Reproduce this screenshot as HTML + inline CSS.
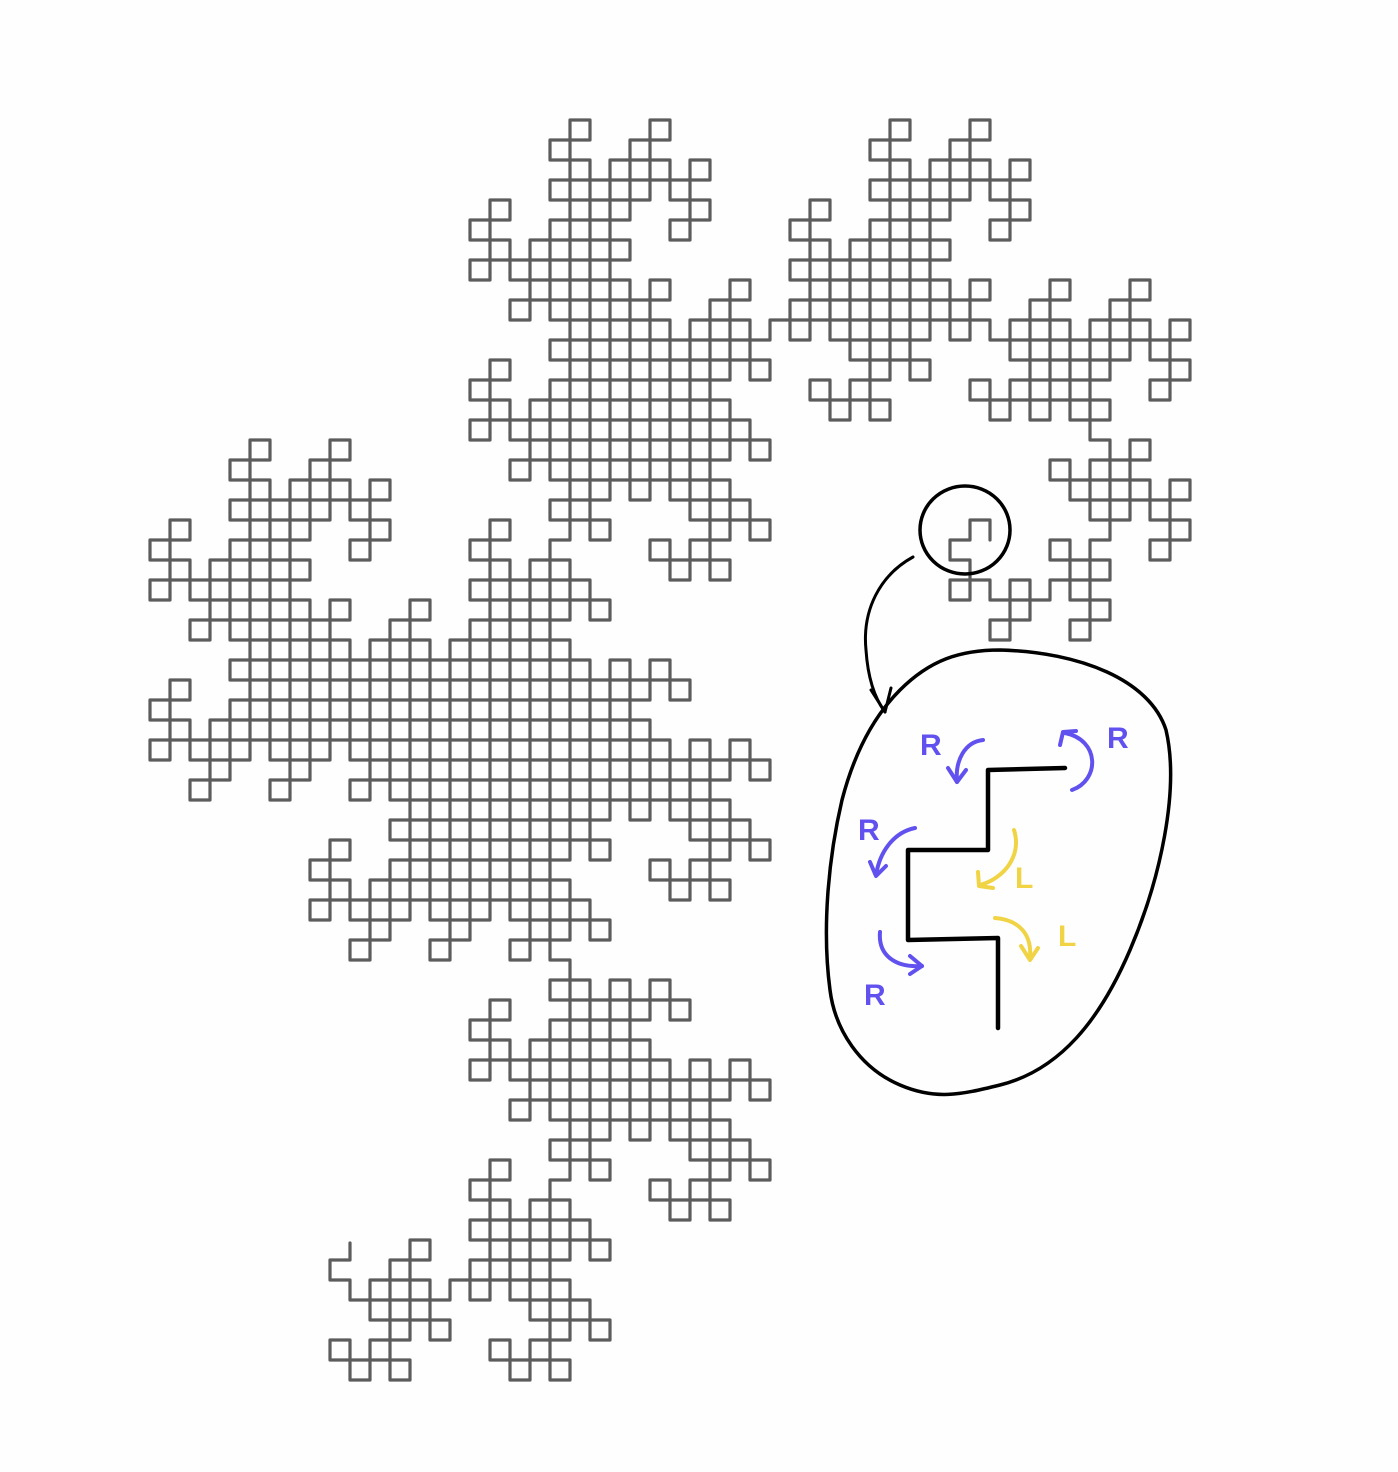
<!DOCTYPE html>
<html><head><meta charset="utf-8">
<style>
html,body{margin:0;padding:0;background:#fefefe;}
svg{display:block;}
text{font-family:"Liberation Sans",sans-serif;font-weight:bold;}
</style></head>
<body>
<svg id="chart" width="1398" height="1472" viewBox="0 0 1398 1472">
  <g id="curve"></g>
  <g fill="none" stroke-linecap="round" stroke-linejoin="round">
    <ellipse cx="965" cy="530" rx="45" ry="44" stroke="#000" stroke-width="3.5"/>
    <path d="M913,557 C880,575 862,610 866,650 C868,680 876,700 885,712" stroke="#000" stroke-width="3"/>
    <path d="M871,690 L885,712 L891,688" stroke="#000" stroke-width="3"/>
    <path d="M1000,650 C1080,652 1150,680 1166,730 C1180,790 1160,880 1130,950 C1100,1020 1060,1070 1000,1085 C960,1095 935,1100 900,1085 C860,1068 835,1030 830,990 C822,930 828,860 842,800 C855,750 875,715 900,690 C930,660 960,650 1000,650 Z" stroke="#000" stroke-width="3.5"/>
    <path d="M1065,768 L988,770 L988,850 L908,850 L908,940 L998,938 L998,1028" stroke="#000" stroke-width="4.5"/>
    <g stroke="#6152ef" stroke-width="4">
      <path d="M983,740 C965,742 955,760 957,782"/><path d="M948,768 L957,782 L966,770"/>
      <path d="M1072,790 C1100,780 1100,740 1065,733"/><path d="M1060,745 L1063,732 L1076,731"/>
      <path d="M915,828 C895,832 880,850 876,875"/><path d="M870,862 L876,876 L886,866"/>
      <path d="M880,932 C878,955 895,968 922,966"/><path d="M910,956 L922,966 L910,974"/>
    </g>
    <g fill="#6152ef" stroke="none" font-size="30">
      <text x="920" y="755">R</text><text x="1107" y="748">R</text><text x="858" y="840">R</text><text x="864" y="1005">R</text>
    </g>
    <g stroke="#f0d445" stroke-width="4">
      <path d="M1014,830 C1022,855 1005,878 980,885"/><path d="M978,872 L979,886 L993,888"/>
      <path d="M995,918 C1020,920 1032,935 1030,958"/><path d="M1021,946 L1030,960 L1038,948"/>
    </g>
    <g fill="#f0d445" stroke="none" font-size="30">
      <text x="1015" y="888">L</text><text x="1058" y="946">L</text>
    </g>
  </g>
</svg>
<script>
const orders = [10, 11, 12];
const targetBox = [150, 120, 1190, 1380];
const targetEnds = [[350, 1243], [990, 521]];
const startEdge = [[350, 1243], [350, 1263]];

function turns(n){
  let t = [];
  for (let i = 0; i < n; i++) {
    const rev = t.slice().reverse().map(v => -v);
    t = t.concat([1], rev);
  }
  return t;
}
function pts(n, rot, mir){
  const t = turns(n);
  const dirs = [[1,0],[0,1],[-1,0],[0,-1]];
  let d = rot, x = 0, y = 0, p = [[0,0]];
  const step = () => { x += dirs[d][0]; y += dirs[d][1]; p.push([x, y]); };
  step();
  for (const v of t) { d = (d + (mir ? -v : v) + 4) % 4; step(); }
  return p;
}
let best = null;
for (const n of orders) for (let r = 0; r < 4; r++) for (const m of [false, true]) {
  const p = pts(n, r, m);
  let x0 = 1e9, y0 = 1e9, x1 = -1e9, y1 = -1e9;
  for (const [x, y] of p) { x0 = Math.min(x0, x); x1 = Math.max(x1, x); y0 = Math.min(y0, y); y1 = Math.max(y1, y); }
  const sx = (targetBox[2] - targetBox[0]) / (x1 - x0), sy = (targetBox[3] - targetBox[1]) / (y1 - y0);
  const X = v => targetBox[0] + (v - x0) * sx, Y = v => targetBox[1] + (v - y0) * sy;
  const a = p[0], b = p[p.length - 1];
  const e = (q, t) => Math.hypot(X(q[0]) - t[0], Y(q[1]) - t[1]);
  const s1 = e(a, targetEnds[0]) + e(b, targetEnds[1]);
  const s2 = e(b, targetEnds[0]) + e(a, targetEnds[1]);
  const score = Math.min(e(b, targetEnds[1]), e(a, targetEnds[1])) + Math.abs(sx - sy) * 40;
  if (!best || score < best.score) best = {score, p, X, Y};
}
// screen points, oriented so the path ends near targetEnds[1]
let sp = best.p.map(q => [best.X(q[0]), best.Y(q[1])]);
const near = (q, t) => Math.hypot(q[0] - t[0], q[1] - t[1]) < 6;
if (!near(sp[sp.length - 1], targetEnds[1])) sp.reverse();
// trim to start at the start edge
for (let i = 0; i < sp.length - 1; i++) {
  const a = sp[i], b = sp[i + 1];
  if ((near(a, startEdge[0]) && near(b, startEdge[1])) || (near(a, startEdge[1]) && near(b, startEdge[0]))) {
    sp = [startEdge[0]].concat(sp.slice(i + 1).filter((q, k) => !(k === 0 && near(q, startEdge[0]))));
    if (!near(sp[1], startEdge[1]) && !near(sp[0], sp[1])) sp.splice(1, 0, startEdge[1]);
    break;
  }
}
const pathEl = document.createElementNS("http://www.w3.org/2000/svg", "path");


pathEl.setAttribute("d", sp.map((q, i) => (i ? "L" : "M") + q[0].toFixed(1) + "," + q[1].toFixed(1)).join(""));
pathEl.setAttribute("fill", "none");
pathEl.setAttribute("stroke", "#5c5c5c");
pathEl.setAttribute("stroke-width", "3.2");
pathEl.setAttribute("stroke-linejoin", "round");
pathEl.setAttribute("stroke-linecap", "round");
document.getElementById("curve").appendChild(pathEl);
</script>
</body></html>
